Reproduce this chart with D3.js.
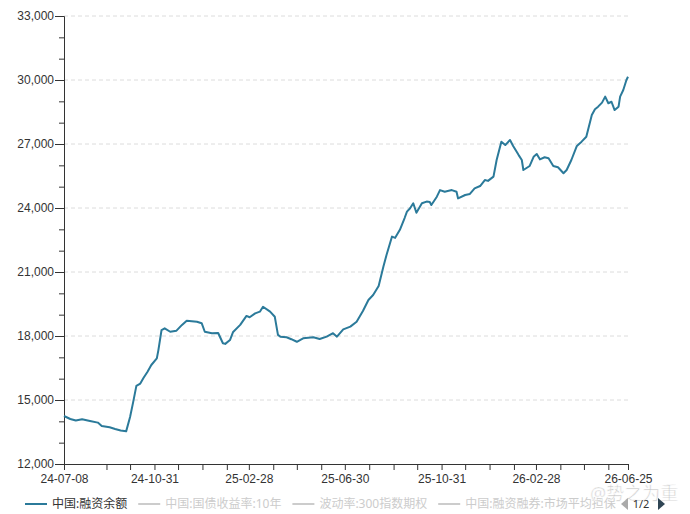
<!DOCTYPE html>
<html>
<head>
<meta charset="utf-8">
<script src="https://cdn.jsdelivr.net/npm/d3@7"></script>
<style>
  body { margin: 0; background: #fff; }
  svg { display: block; font-family: "Noto Sans", "Noto Sans CJK SC", sans-serif; }
</style>
</head>
<body>
<svg id="chart" width="690" height="514"></svg>
<script>
// Data
const dates = [
  "2024-07-08", "2024-07-16", "2024-07-23", "2024-07-31", "2024-08-10", "2024-08-20", "2024-08-25",
  "2024-09-04", "2024-09-11", "2024-09-18", "2024-09-25", "2024-09-30", "2024-10-04", "2024-10-08",
  "2024-10-13", "2024-10-17", "2024-10-22", "2024-10-27", "2024-11-03", "2024-11-05", "2024-11-09",
  "2024-11-13", "2024-11-20", "2024-11-28", "2024-12-05", "2024-12-11", "2024-12-24", "2024-12-30",
  "2025-01-03", "2025-01-12", "2025-01-20", "2025-01-26", "2025-01-29", "2025-02-04", "2025-02-08",
  "2025-02-17", "2025-02-25", "2025-03-01", "2025-03-08", "2025-03-14", "2025-03-18", "2025-03-27",
  "2025-04-02", "2025-04-06", "2025-04-09", "2025-04-17", "2025-04-23", "2025-04-30", "2025-05-08",
  "2025-05-21", "2025-05-29", "2025-06-07", "2025-06-15", "2025-06-20", "2025-06-28", "2025-07-07",
  "2025-07-15", "2025-07-23", "2025-07-30", "2025-08-05", "2025-08-12", "2025-08-18", "2025-08-22",
  "2025-08-29", "2025-09-02", "2025-09-08", "2025-09-14", "2025-09-17", "2025-09-21", "2025-09-25",
  "2025-09-29", "2025-10-06", "2025-10-12", "2025-10-16", "2025-10-18", "2025-10-25", "2025-10-29",
  "2025-11-04", "2025-11-13", "2025-11-19", "2025-11-21", "2025-11-30", "2025-12-06", "2025-12-12",
  "2025-12-19", "2025-12-25", "2025-12-29", "2026-01-05", "2026-01-09", "2026-01-15", "2026-01-20",
  "2026-01-26", "2026-01-30", "2026-02-06", "2026-02-10", "2026-02-12", "2026-02-20", "2026-02-25",
  "2026-03-01", "2026-03-05", "2026-03-11", "2026-03-16", "2026-03-22", "2026-03-28", "2026-04-04",
  "2026-04-08", "2026-04-14", "2026-04-21", "2026-04-27", "2026-05-03", "2026-05-10", "2026-05-14",
  "2026-05-18", "2026-05-23", "2026-05-27", "2026-05-31", "2026-06-04", "2026-06-08", "2026-06-13",
  "2026-06-15", "2026-06-19", "2026-06-23", "2026-06-25"
];
const balance = [
  14250, 14110, 14040, 14100, 14020, 13940, 13780,
  13720, 13640, 13570, 13530, 14200, 14910, 15660,
  15770, 16030, 16310, 16640, 16950, 17340, 18280,
  18360, 18200, 18250, 18520, 18720, 18670, 18600,
  18200, 18130, 18140, 17660, 17630, 17810, 18190,
  18520, 18940, 18880, 19060, 19140, 19370, 19140,
  18900, 18050, 17970, 17940, 17850, 17730, 17890,
  17940, 17860, 17970, 18130, 17970, 18310, 18440,
  18670, 19170, 19690, 19920, 20340, 21250, 21800,
  22660, 22600, 22980, 23530, 23830, 23990, 24220,
  23780, 24220, 24300, 24280, 24140, 24530, 24840,
  24760, 24840, 24760, 24450, 24610, 24660, 24920,
  25030, 25310, 25270, 25470, 26250, 27110, 26950,
  27190, 26910, 26480, 26250, 25780, 25970, 26400,
  26530, 26280, 26380, 26330, 25970, 25910, 25630,
  25780, 26250, 26910, 27110, 27340, 28360, 28630,
  28750, 28940, 29220, 28910, 28980, 28590, 28750,
  29220, 29530, 30000, 30150
];
const xLabelDates = ["2024-07-08", "2024-10-31", "2025-02-28", "2025-06-30", "2025-10-31", "2026-02-28", "2026-06-25"];
const yTicks = [12000, 15000, 18000, 21000, 24000, 27000, 30000, 33000];
// last legend name is cut off by the legend pager in the picture
const legendItems = ["中国:融资余额", "中国:国债收益率:10年", "波动率:300指数期权", "中国:融资融券:市场平均担保"];

const lineColor = "#2b7a9a";
const margin = { top: 16, right: 62, bottom: 50, left: 64 };
const width = 690 - margin.left - margin.right;
const height = 514 - margin.top - margin.bottom;

const parse = d3.timeParse("%Y-%m-%d");
const fmt = d3.timeFormat("%y-%m-%d");
const data = dates.map((d, i) => ({ date: parse(d), value: balance[i] }));
const labelDates = xLabelDates.map(parse);

const svg = d3.select("#chart");
const g = svg.append("g").attr("transform", `translate(${margin.left},${margin.top})`);

const x = d3.scaleTime()
  .domain([labelDates[0], labelDates[labelDates.length - 1]])
  .range([0, width]);
const y = d3.scaleLinear().domain([12000, 33000]).range([height, 0]);

// month-end ticks between the ends
const monthEnds = d3.timeMonth.range(d3.timeMonth.offset(d3.timeMonth.floor(x.domain()[0]), 2), x.domain()[1])
  .map((m) => d3.timeDay.offset(m, -1));
const xTickValues = [x.domain()[0], ...monthEnds, x.domain()[1]];
const labelSet = new Set(labelDates.map((d) => +d));

// grid
g.append("g")
  .selectAll("line")
  .data(yTicks.slice(1))
  .enter()
  .append("line")
  .attr("x1", 0)
  .attr("x2", width)
  .attr("y1", (d) => y(d))
  .attr("y2", (d) => y(d))
  .attr("stroke", "#dcdcdc")
  .attr("stroke-dasharray", "4,3");

// y axis: minor ticks then labelled ones
g.append("g")
  .call(d3.axisLeft(y).tickValues(d3.range(12000, 33001, 1000)).tickSize(5).tickFormat("").tickSizeOuter(0))
  .call((a) => a.selectAll("line").attr("stroke", "#333"))
  .call((a) => a.select(".domain").attr("stroke", "#333"));

g.append("g")
  .call(d3.axisLeft(y).tickValues(yTicks).tickSize(9).tickPadding(1).tickFormat(d3.format(",")).tickSizeOuter(0))
  .call((a) => a.select(".domain").attr("stroke", "#333"))
  .call((a) => a.selectAll("line").attr("stroke", "#333"))
  .call((a) => a.selectAll("text").attr("fill", "#333").style("font-size", "12px"));

// x axis
g.append("g")
  .attr("transform", `translate(0,${height})`)
  .call(
    d3.axisBottom(x)
      .tickValues(xTickValues)
      .tickSize(6)
      .tickPadding(4.5)
      .tickSizeOuter(0)
      .tickFormat((d) => (labelSet.has(+d) ? fmt(d) : ""))
  )
  .call((a) => a.select(".domain").attr("stroke", "#333"))
  .call((a) => a.selectAll("line").attr("stroke", "#333"))
  .call((a) => a.selectAll("text").attr("fill", "#333").style("font-size", "12px"));

// line
const line = d3.line().x((d) => x(d.date)).y((d) => y(d.value));
g.append("path")
  .datum(data)
  .attr("fill", "none")
  .attr("stroke", lineColor)
  .attr("stroke-width", 2)
  .attr("stroke-linejoin", "round")
  .attr("d", line);

// legend
const legend = svg.append("g");
let lx = 25;
const ly = 504;
legendItems.forEach((name, i) => {
  const col = i === 0 ? lineColor : "#cccccc";
  legend.append("line")
    .attr("x1", lx).attr("x2", lx + 22)
    .attr("y1", ly).attr("y2", ly)
    .attr("stroke", col).attr("stroke-width", 2);
  const t = legend.append("text")
    .attr("x", lx + 27).attr("y", ly)
    .attr("dy", "0.35em")
    .attr("fill", i === 0 ? "#333" : "#cccccc")
    .style("font-size", "12px")
    .text(name);
  lx += 27 + t.node().getComputedTextLength() + 11;
});

// watermark
svg.append("text")
  .attr("x", 590).attr("y", 500)
  .attr("fill", "#c8c8c8")
  .attr("stroke", "#fff").attr("stroke-width", 0.6)
  .style("font-size", "18px")
  .text("@势之为重");

// legend pager
svg.append("path").attr("d", "M628,498 L621,504 L628,510 Z").attr("fill", "#aaa");
svg.append("text").attr("x", 641).attr("y", 504).attr("dy", "0.35em")
  .attr("text-anchor", "middle").attr("fill", "#333").style("font-size", "11px").text("1/2");
svg.append("path").attr("d", "M658,498 L665,504 L658,510 Z").attr("fill", "#2f4554");
</script>
</body>
</html>
